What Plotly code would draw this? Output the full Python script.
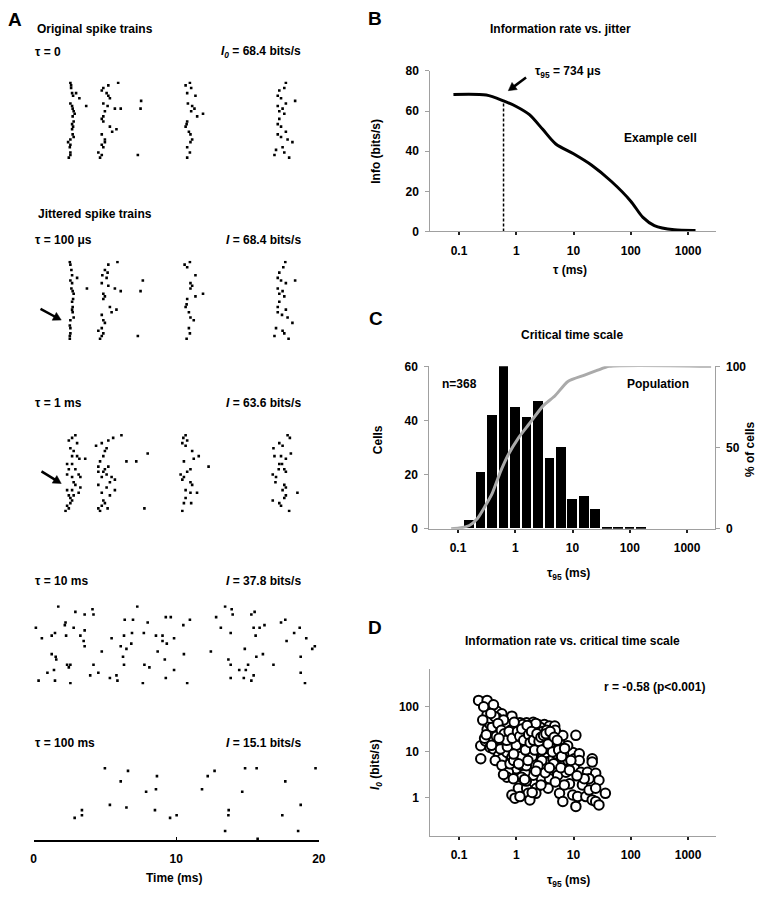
import math
import numpy as np
import plotly.graph_objects as go

W, H = 764, 899
FONT = "Liberation Sans, Arial, Helvetica, sans-serif"

# ---------------- Panel A: spike rasters (time in ms, trial number) ----------------
raster_tau0 = [
    (2.58, 1), (2.63, 2), (2.63, 3), (2.70, 5), (2.77, 6), (2.98, 5), (3.21, 7), (2.58, 9),
    (2.70, 10), (2.74, 11), (2.81, 12), (2.88, 13), (2.74, 14), (2.81, 16), (2.70, 17),
    (2.77, 18), (2.70, 19), (2.74, 21), (2.81, 22), (2.58, 23), (2.42, 24), (2.58, 25),
    (2.54, 26), (2.58, 28), (2.58, 29), (2.47, 30), (3.69, 10),
    (5.93, 1), (5.24, 2), (4.89, 3), (5.12, 5), (4.78, 4), (5.24, 6), (5.35, 7), (4.89, 9),
    (5.19, 10), (5.70, 11), (6.11, 11), (5.00, 12), (4.89, 14), (4.78, 15), (4.89, 16),
    (5.35, 18), (5.81, 19), (5.51, 20), (4.78, 21), (5.00, 23), (5.00, 24), (4.78, 25),
    (4.89, 26), (4.54, 28), (4.78, 29), (4.66, 30),
    (7.54, 8), (7.50, 11), (7.31, 29),
    (10.96, 1), (10.66, 2), (11.05, 3), (10.77, 5), (11.35, 6), (10.82, 9), (11.12, 10),
    (11.28, 11), (11.05, 12), (11.88, 13), (11.47, 14), (10.77, 16), (10.73, 17), (10.66, 18),
    (10.89, 20), (11.00, 21), (11.12, 23), (11.00, 24), (10.77, 26), (10.96, 28), (10.77, 30),
    (17.69, 1), (17.58, 3), (17.23, 4), (17.12, 6), (17.35, 7), (18.34, 8), (17.69, 9),
    (17.12, 10), (17.46, 11), (17.23, 12), (17.58, 13), (17.23, 15), (17.12, 17), (17.35, 18),
    (17.69, 20), (17.12, 21), (17.35, 22), (17.81, 23), (18.15, 24), (17.46, 26), (17.00, 27),
    (17.58, 28), (16.89, 29), (17.92, 30),
]
raster_tau100us = [
    (2.54, 1), (2.58, 2), (2.65, 4), (2.70, 6), (3.05, 7), (2.58, 8), (2.70, 9), (2.65, 11),
    (2.74, 12), (2.81, 13), (2.77, 15), (2.70, 16), (2.74, 18), (2.70, 19), (2.74, 20),
    (2.81, 22), (2.58, 23), (2.54, 25), (2.58, 26), (2.58, 28), (2.54, 29), (2.54, 30), (3.74, 11),
    (5.88, 1), (5.24, 2), (5.00, 4), (5.19, 5), (4.82, 6), (5.12, 7), (4.78, 9), (5.24, 10),
    (5.70, 11), (6.11, 12), (4.89, 13), (5.00, 14), (4.89, 15), (5.35, 18), (5.81, 19),
    (5.47, 20), (4.78, 21), (4.89, 23), (5.00, 24), (4.78, 26), (4.89, 28), (4.54, 27),
    (4.78, 29), (4.66, 30),
    (7.66, 8), (7.50, 12), (7.31, 29),
    (10.96, 1), (10.59, 2), (10.77, 3), (11.35, 6), (11.00, 9), (11.12, 10), (11.00, 11),
    (11.88, 13), (11.35, 14), (10.77, 15), (10.73, 17), (10.66, 18), (10.89, 20), (11.00, 22),
    (11.23, 23), (10.89, 26), (10.96, 28), (10.73, 30),
    (17.65, 1), (17.51, 3), (17.23, 5), (17.12, 7), (17.35, 8), (18.34, 8), (17.69, 9),
    (17.12, 11), (17.46, 12), (17.23, 13), (17.58, 14), (17.23, 16), (17.12, 18), (17.69, 19),
    (17.12, 20), (17.42, 21), (17.81, 22), (18.15, 24), (17.00, 26), (17.46, 27), (17.58, 28),
    (16.89, 29), (17.88, 30),
]
raster_tau1ms = [
    (2.93, 1), (2.70, 2), (2.47, 3), (3.05, 4), (2.58, 6), (2.81, 7), (3.05, 9), (2.70, 9),
    (3.21, 10), (3.62, 10), (2.35, 12), (2.70, 12), (2.47, 14), (2.93, 14), (2.35, 16),
    (3.16, 16), (2.70, 17), (3.28, 17), (2.81, 19), (2.93, 20), (3.28, 21), (2.70, 22),
    (3.16, 23), (2.35, 22), (2.47, 24), (2.81, 24), (2.58, 25), (2.70, 26), (2.58, 27),
    (2.35, 28), (2.47, 29), (2.24, 30),
    (6.16, 1), (5.58, 2), (5.24, 3), (4.78, 4), (4.38, 5), (5.12, 6), (5.00, 7), (4.89, 9),
    (6.51, 11), (4.66, 11), (4.54, 13), (5.00, 14), (5.24, 13), (4.54, 15), (4.89, 15),
    (5.12, 16), (5.47, 17), (4.78, 17), (5.70, 18), (5.35, 19), (4.54, 20), (5.12, 21),
    (5.70, 22), (4.78, 23), (5.35, 24), (4.89, 26), (5.00, 27), (4.78, 28), (5.19, 29),
    (4.54, 29), (4.66, 30),
    (8.00, 8), (7.20, 11), (7.77, 29),
    (10.66, 1), (10.50, 2), (10.77, 3), (10.43, 4), (10.66, 5), (11.12, 7), (11.58, 9),
    (11.23, 10), (10.54, 11), (12.27, 13), (11.00, 14), (10.77, 15), (10.31, 16), (10.54, 17),
    (10.43, 18), (11.00, 19), (11.12, 20), (10.66, 22), (11.00, 23), (11.46, 23), (10.66, 25),
    (10.54, 27), (11.05, 27), (10.43, 30),
    (17.81, 1), (17.97, 2), (17.23, 4), (17.46, 5), (16.82, 6), (18.04, 8), (16.89, 9),
    (17.35, 9), (17.69, 10), (17.23, 12), (17.42, 12), (17.58, 14), (17.19, 14), (17.69, 15),
    (16.77, 16), (17.00, 17), (16.96, 19), (17.58, 20), (17.69, 21), (17.46, 22), (18.50, 23),
    (17.69, 24), (17.58, 25), (16.77, 26), (17.23, 27), (17.35, 28), (17.92, 30),
]
raster_tau10ms = [
    (1.73, 1), (2.93, 3), (3.58, 4), (4.13, 2), (4.20, 4), (0.16, 9), (0.58, 13), (1.27, 12),
    (1.50, 11), (2.24, 7), (2.19, 8), (2.81, 9), (3.28, 12), (3.58, 10), (2.28, 12), (3.51, 14),
    (3.58, 16), (1.27, 19), (1.55, 20), (1.59, 21), (2.35, 23), (2.58, 23), (2.47, 24),
    (4.20, 23), (4.78, 18), (0.97, 26), (1.43, 25), (0.35, 29), (1.50, 29), (2.58, 30),
    (3.97, 27), (4.54, 26), (5.35, 28), (5.81, 27), (5.88, 29), (5.47, 13), (6.11, 16),
    (6.34, 12), (6.27, 20), (6.39, 6), (6.97, 6), (7.27, 1), (6.51, 17), (6.85, 15), (6.90, 11),
    (6.34, 23), (7.77, 23), (8.12, 24), (8.00, 7), (7.73, 11), (8.58, 12), (9.04, 12),
    (8.70, 18), (9.04, 14), (9.34, 15), (9.85, 13), (9.27, 5), (9.62, 5), (10.50, 8),
    (10.96, 6), (9.20, 21), (10.54, 19), (9.85, 25), (7.66, 30), (9.27, 28), (10.77, 30),
    (12.80, 5), (13.43, 1), (13.89, 2), (13.96, 4), (15.27, 4), (15.50, 3), (13.13, 9),
    (13.82, 11), (12.43, 18), (14.81, 17), (15.43, 9), (15.57, 12), (15.85, 9), (16.19, 8),
    (13.66, 21), (13.82, 23), (15.62, 20), (16.08, 19), (15.04, 23), (14.42, 25), (14.88, 25),
    (16.82, 23), (13.82, 28), (14.74, 28), (15.27, 29), (15.43, 27), (17.35, 7), (17.65, 6),
    (17.74, 14), (18.27, 11), (18.66, 9), (19.12, 13), (19.54, 17), (19.72, 16), (18.73, 20),
    (18.73, 26), (19.03, 30),
]
raster_tau100ms = [
    (5.00, 3), (6.62, 4), (8.65, 6), (6.11, 8), (7.89, 12), (8.58, 11), (5.35, 17), (6.51, 18),
    (8.51, 19), (3.39, 19), (3.39, 21), (2.88, 22), (9.57, 22), (10.03, 21), (11.81, 11),
    (12.21, 6), (12.69, 4), (13.68, 19), (13.66, 21), (13.43, 27), (14.63, 12), (14.83, 3),
    (15.64, 3), (15.71, 30), (17.65, 8), (17.44, 21), (18.73, 17), (18.55, 27), (19.77, 3),
]
raster_tau_labels = ["τ = 0", "τ = 100 μs", "τ = 1 ms", "τ = 10 ms", "τ = 100 ms"]
raster_info_labels = ["<i>I<sub>0</sub></i> = 68.4 bits/s", "<i>I</i> = 68.4 bits/s",
                      "<i>I</i> = 63.6 bits/s", "<i>I</i> = 37.8 bits/s", "<i>I</i> = 15.1 bits/s"]
time_ticks = [0, 10, 20]

# ---------------- Panel B: information rate vs. jitter ----------------
jitter_ms = [0.08, 0.3, 0.6, 1, 1.7, 2.9, 4.9, 10, 20.8, 46, 100, 163, 258, 575, 1350]
info_rate = [68.3, 68.0, 65.1, 62.3, 58.2, 50.9, 43.6, 38.7, 33.0, 24.9, 15.1, 7.0, 2.9, 0.8, 0.5]
tau95_ms = 0.6
info_at_tau95 = 65.1

# ---------------- Panel C: histogram of critical time scale ----------------
bin_center_ms = [0.16, 0.25, 0.40, 0.63, 1.0, 1.6, 2.5, 4.0, 6.3, 10, 16, 25, 40, 63, 100, 160]
cell_counts = [3, 21, 42, 60, 45, 41, 47, 26, 30, 11, 12, 7, 0.5, 0.5, 0.5, 0.5]
cum_tau_ms = [0.076, 0.105, 0.158, 0.219, 0.302, 0.398, 0.55, 0.767, 1.14, 1.70, 3.09, 4.9,
              8.3, 16.2, 27.5, 43.6, 2630]
cum_pct = [0, 0.4, 2, 6.3, 14.3, 22, 35, 46, 56, 64, 75.8, 81.7, 90.7, 94.6, 97.6, 100, 100]

# ---------------- Panel D: information rate vs. critical time scale ----------------
cell_tau95_ms = [
    0.22, 0.31, 0.33, 0.31, 0.31, 0.46, 0.56, 0.24, 0.24, 0.29, 0.35, 0.31, 0.40, 0.53, 0.43,
    0.53, 0.73, 0.89, 0.78, 1.16, 1.52, 1.62, 1.98, 2.4, 3.1, 3.8, 4.7, 5.3, 5.7, 4.4, 2.6,
    1.73, 1.09, 0.78, 0.60, 0.46, 0.40, 0.49, 0.56, 0.43, 0.69, 0.84, 0.89, 1.16, 1.33, 1.52,
    1.98, 2.6, 3.3, 4.4, 5.0, 6.5, 2.25, 2.9, 3.3, 3.8, 4.4, 5.7, 7.9, 9.7, 10.3, 7.4, 9.7,
    12.6, 11, 6.9, 5.0, 3.6, 2.75, 3.8, 1.98, 1.42, 1.24, 1.0, 1.24, 0.73, 0.69, 0.89, 1.09,
    1.52, 2.25, 1.62, 2.2, 3.6, 0.84, 0.95, 1.16, 1.73, 5.7, 6.5, 5.3, 7.4, 10.3, 12.6, 13.4,
    17.5, 21.2, 21.2, 24.4, 27.8, 18.7, 14.3, 9.7, 11.8, 11, 16.4, 18.7, 24.4, 21.2, 24.4,
    27.8, 36, 15.4, 8.5, 6.9, 0.27, 0.40, 0.46, 0.35, 0.64, 0.84, 1.0, 1.33, 2.1, 3.1, 2.4,
    3.7, 4.0, 2.25, 1.73, 1.42, 0.56, 0.78, 1.98, 2.6, 3.1, 5.0, 0.40, 0.53, 6.5, 7.9,
    0.5, 0.65, 0.7, 0.95, 1.1, 1.3, 1.4, 1.6, 1.8, 2.0, 2.2, 2.6, 2.9, 3.4, 3.5, 4.2, 4.8,
    1.2, 1.5, 0.9, 0.7, 0.6, 0.38, 0.45, 1.0, 2.8, 3.0, 4.5, 6.0, 8.0, 0.8, 1.3, 2.2, 0.35,
    0.28, 1.9, 2.4, 3.2, 1.5, 0.6,
    0.42, 0.48, 0.55, 0.62, 0.68, 0.75, 0.85, 0.92, 1.05, 1.15, 1.25, 1.35, 1.45, 1.55, 1.65,
    1.75, 1.85, 2.0, 2.1, 2.3, 2.5, 2.7, 2.8, 3.0, 3.3, 3.6, 3.9, 4.3, 4.6, 5.2, 5.5, 6.2,
    7.0, 8.5, 9.0, 11.5, 3.8, 2.2, 1.6, 1.1, 0.9, 0.5, 0.3, 0.37, 0.26, 0.36, 1.4, 2.7, 4.8,
    1.9,
]
cell_info0 = [
    135, 135, 85, 66, 45, 78, 69, 13.7, 7.1, 17.5, 12.6, 31, 26.5, 27.5, 44, 45, 50, 47, 37,
    44, 44, 34, 45, 40, 40, 37, 37, 24.5, 16, 26.5, 26.5, 26.5, 19, 16, 16, 16, 11.6, 8.3,
    7.1, 6.5, 9.8, 7.6, 11.6, 10.7, 7.1, 12.6, 14.9, 14.9, 13.7, 12.6, 14.9, 11.6, 9.1, 8.3,
    9.8, 6.0, 7.1, 7.6, 8.6, 9.8, 7.1, 5.1, 4.9, 9.1, 23.2, 6.0, 3.96, 3.1, 2.6, 2.6, 3.1,
    3.6, 2.8, 4.3, 5.1, 3.6, 2.8, 2.6, 1.6, 1.6, 1.6, 1.24, 1.24, 1.6, 1.14, 0.97, 1.05,
    0.89, 1.24, 0.82, 3.1, 3.6, 4.7, 6.5, 3.6, 3.6, 7.1, 6.0, 3.4, 2.4, 2.6, 1.9, 1.14, 1.05,
    0.64, 1.05, 1.46, 1.6, 0.89, 0.82, 0.69, 1.24, 2.6, 2.0, 1.9, 98, 108, 56, 40, 31, 61,
    31, 22.6, 19, 19, 31, 22.6, 16, 12.6, 10.7, 9.1, 5.1, 5.5, 5.5, 4.3, 4.6, 9.1, 17.5,
    11.6, 23, 13.7,
    35, 22, 40, 25, 35, 15, 28, 20, 38, 30, 22, 35, 28, 30, 12, 19, 30,
    8, 5, 6.5, 13, 50, 35, 22, 14, 6.5, 16, 5.5, 4.5, 6.5, 30, 40, 42, 55,
    20, 8, 5, 3.5, 2.3, 3.2,
    60, 42, 30, 25, 18, 28, 20, 45, 28, 22, 32, 18, 11, 38, 24,
    16, 28, 18, 11, 25, 17, 21, 11, 23, 25, 15, 28, 10, 21, 18, 11, 8,
    12, 4, 6.5, 3, 4.5, 3.8, 6.5, 5.5, 9, 20, 24, 14, 50, 70, 2.5, 1.9, 2.2,
    1.3,
]
log_ticks = [0.1, 1, 10, 100, 1000]
log_tick_text = ["0.1", "1", "10", "100", "1000"]


# ---------------- helpers (pixel -> paper) ----------------
def xdom(a, b):
    return [a / W, b / W]


def ydom(top, bottom):
    return [1 - bottom / H, 1 - top / H]


def ann(px, py, text, size=12, xanchor="left", angle=0, bold=True):
    return dict(x=px / W, y=1 - py / H, xref="paper", yref="paper",
                text=(f"<b>{text}</b>" if bold else text),
                showarrow=False, xanchor=xanchor, yanchor="middle", textangle=angle,
                font=dict(family=FONT, size=size, color="black"))


def arrow_shapes(hx, hy, tx, ty, width=2.5, head=8.0, half=4.5):
    """Arrow from tail (tx, ty) to head (hx, hy), pixel coordinates -> paper shapes."""
    dx, dy = hx - tx, hy - ty
    L = math.hypot(dx, dy)
    ux, uy = dx / L, dy / L
    bx, by = hx - ux * head, hy - uy * head
    lx, ly = bx - uy * half, by + ux * half
    rx, ry = bx + uy * half, by - ux * half

    def P(x, y):
        return f"{x / W:.5f},{1 - y / H:.5f}"

    line = dict(type="line", xref="paper", yref="paper", x0=tx / W, y0=1 - ty / H,
                x1=(bx + ux * 1.5) / W, y1=1 - (by + uy * 1.5) / H,
                line=dict(color="black", width=width))
    tri = dict(type="path", xref="paper", yref="paper",
               path=f"M{P(hx, hy)} L{P(lx, ly)} L{P(rx, ry)} Z",
               fillcolor="black", line=dict(color="black", width=0.5))
    return [line, tri]


fig = go.Figure()
layout = {}

# ---- Panel A ----
rasters = [raster_tau0, raster_tau100us, raster_tau1ms, raster_tau10ms, raster_tau100ms]
row_spans = [(75.7, 154.3), (257.7, 338.3), (433.7, 513.3), (607.7, 688.3), (766.7, 846.3)]
label_rows = [46, 236.7, 402.3, 583, 748]
for i, r in enumerate(rasters):
    t, tr = zip(*r)
    yname = "y" if i == 0 else f"y{i + 1}"
    fig.add_trace(go.Scatter(x=list(t), y=list(tr), mode="markers", xaxis="x", yaxis=yname,
                             marker=dict(symbol="square", size=2.6, color="black", line_width=0),
                             showlegend=False, hoverinfo="skip"))
    key = "yaxis" if i == 0 else f"yaxis{i + 1}"
    layout[key] = dict(domain=ydom(*row_spans[i]), range=[30.5, 0.5], visible=False, anchor="x")

layout["xaxis"] = dict(domain=xdom(31, 320), range=[0, 20], anchor="y5", showline=True,
                       linecolor="black", linewidth=1.5, ticks="inside", ticklen=3,
                       tickcolor="black", tickvals=time_ticks, showgrid=False, zeroline=False,
                       tickfont=dict(family=FONT, size=12, color="black", weight="bold"),
                       ticklabelstandoff=7)

axis_common = dict(showgrid=False, zeroline=False, showline=True, linecolor="#a0a0a0",
                   linewidth=1, tickfont=dict(family=FONT, size=12, color="black", weight="bold"))

# ---- Panel B ----
fig.add_trace(go.Scatter(x=jitter_ms, y=info_rate, mode="lines", xaxis="x2", yaxis="y6",
                         line=dict(color="black", width=3, shape="spline", smoothing=0.8),
                         showlegend=False, hoverinfo="skip"))
fig.add_trace(go.Scatter(x=[tau95_ms, tau95_ms], y=[0, info_at_tau95], mode="lines",
                         xaxis="x2", yaxis="y6",
                         line=dict(color="black", width=1.5, dash="3px,2px"),
                         showlegend=False, hoverinfo="skip"))
layout["xaxis2"] = dict(axis_common, domain=xdom(433, 722), type="log", range=[-1.5, 3.48],
                        anchor="y6", tickvals=log_ticks, ticktext=log_tick_text, ticks="outside",
                        ticklen=3, tickwidth=2, tickcolor="#222", ticklabelstandoff=5)
layout["yaxis6"] = dict(axis_common, domain=ydom(65, 228), range=[0, 80], anchor="x2",
                        tickvals=[0, 20, 40, 60, 80], ticks="outside", ticklen=4,
                        tickcolor="#a0a0a0", ticklabelstandoff=4)

# ---- Panel C ----
fig.add_trace(go.Bar(x=np.log10(bin_center_ms), y=cell_counts, width=0.17, xaxis="x3", yaxis="y7",
                     marker=dict(color="black", line_width=0), showlegend=False, hoverinfo="skip"))
fig.add_trace(go.Scatter(x=np.log10(cum_tau_ms), y=cum_pct, mode="lines", xaxis="x3", yaxis="y8",
                         line=dict(color="#aaaaaa", width=3, shape="spline", smoothing=0.6),
                         showlegend=False, hoverinfo="skip"))
layout["xaxis3"] = dict(axis_common, domain=xdom(432, 721), range=[-1.5, 3.48], anchor="y7",
                        tickvals=list(np.log10(log_ticks)), ticktext=log_tick_text,
                        ticks="outside", ticklen=3, tickwidth=2, tickcolor="#222",
                        ticklabelstandoff=5)
layout["yaxis7"] = dict(axis_common, domain=ydom(365, 530), range=[0, 60], anchor="x3",
                        tickvals=[0, 20, 40, 60], ticks="outside", ticklen=4,
                        tickcolor="#a0a0a0", ticklabelstandoff=4)
layout["yaxis8"] = dict(axis_common, overlaying="y7", side="right", anchor="x3", range=[0, 100],
                        tickvals=[0, 50, 100], ticks="outside", ticklen=4,
                        tickcolor="#a0a0a0", ticklabelstandoff=4)

# ---- Panel D ----
fig.add_trace(go.Scatter(x=cell_tau95_ms, y=cell_info0, mode="markers", xaxis="x4", yaxis="y9",
                         marker=dict(symbol="circle", size=9.5, color="white",
                                     line=dict(color="black", width=2)),
                         showlegend=False, hoverinfo="skip"))
layout["xaxis4"] = dict(axis_common, domain=xdom(433, 722), type="log", range=[-1.5, 3.48],
                        anchor="y9", tickvals=log_ticks, ticktext=log_tick_text, ticks="outside",
                        ticklen=3, tickwidth=2, tickcolor="#222", ticklabelstandoff=5)
layout["yaxis9"] = dict(axis_common, domain=ydom(672, 842), type="log", range=[-0.84, 2.83],
                        anchor="x4", tickvals=[1, 10, 100], ticktext=["1", "10", "100"],
                        ticks="outside", ticklen=4, tickcolor="#a0a0a0", ticklabelstandoff=4)

# ---- Text ----
annotations = [
    ann(3, 13, "A", size=19), ann(368, 12, "B", size=19), ann(369, 316, "C", size=19),
    ann(368, 630, "D", size=19),
    ann(32, 22.5, "Original spike trains"),
    ann(33, 210.7, "Jittered spike trains"),
    ann(173, 885, "Time (ms)", xanchor="center"),
    ann(565, 22.7, "Information rate vs. jitter", xanchor="center"),
    ann(537, 66, "τ<sub>95</sub> = 734 μs"),
    ann(627, 133.3, "Example cell"),
    ann(378, 147, "Info (bits/s)", xanchor="center", angle=-90),
    ann(575, 267, "τ (ms)", xanchor="center"),
    ann(577, 332.7, "Critical time scale", xanchor="center"),
    ann(443, 383.3, "n=368"),
    ann(630, 382.7, "Population"),
    ann(380, 440, "Cells", xanchor="center", angle=-90),
    ann(757, 449, "% of cells", xanchor="center", angle=-90),
    ann(573, 576, "τ<sub>95</sub> (ms)", xanchor="center"),
    ann(577, 644, "Information rate vs. critical time scale", xanchor="center"),
    ann(607, 690.7, "r = -0.58 (p&lt;0.001)"),
    ann(378, 770, "<i>I<sub>0</sub></i> (bits/s)", xanchor="center", angle=-90),
    ann(573, 888, "τ<sub>95</sub> (ms)", xanchor="center"),
]
for lab, info, yy in zip(raster_tau_labels, raster_info_labels, label_rows):
    annotations.append(ann(30, yy, lab))
    annotations.append(ann(304, yy, info, xanchor="right"))

shapes = (arrow_shapes(59, 318, 38, 306.7) + arrow_shapes(59, 484, 39, 471.7)
          + arrow_shapes(512, 85, 530, 71.7))

fig.update_layout(width=W, height=H, margin=dict(l=0, r=0, t=0, b=0),
                  paper_bgcolor="white", plot_bgcolor="white", showlegend=False,
                  font=dict(family=FONT, color="black"), annotations=annotations,
                  shapes=shapes, bargap=0, **layout)

fig.write_html("out.html", config={"displayModeBar": False},
               post_script="document.body.style.margin='0px';document.body.style.overflow='hidden';")
